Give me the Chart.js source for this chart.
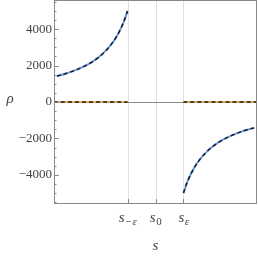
<!DOCTYPE html>
<html>
<head>
<meta charset="utf-8">
<script src="https://cdn.jsdelivr.net/npm/chart.js"></script>
<style>
  html, body { margin: 0; padding: 0; background: #fff; }
  #wrap { width: 258px; height: 258px; }
</style>
</head>
<body>
<div id="wrap"><canvas id="myChart" width="258" height="258"></canvas></div>
<script>
// values (s in units of epsilon around s0)
const sLeft = [-3.53, -3.25, -3, -2.75, -2.5, -2.25, -2, -1.75, -1.5, -1.375, -1.25, -1.125, -1];
const rhoLeft = [1420, 1540, 1670, 1820, 2000, 2220, 2500, 2860, 3330, 3640, 4000, 4440, 5000];
const sRight = [1, 1.125, 1.25, 1.375, 1.5, 1.75, 2, 2.25, 2.5, 2.75, 3, 3.25, 3.53];
const rhoRight = [-5000, -4440, -4000, -3640, -3330, -2860, -2500, -2220, -2000, -1820, -1670, -1540, -1420];
const sZeroLeft = [-3.63, -1];
const sZeroRight = [1, 3.63];

const yTicks = [-4000, -2000, 0, 2000, 4000];
const yMinorStep = 500;
const xTicks = [-1, 0, 1];
const xTickLabels = [["s", "−ε"], ["s", "0"], ["s", "ε"]];

const pts = (xs, ys) => xs.map((x, i) => ({ x: x, y: ys[i] }));
const zeros = (xs) => xs.map((x) => ({ x: x, y: 0 }));

const blue = "#6a9bd8";
const orange = "#f2a31c";
const serif = "'Liberation Serif', 'Times New Roman', serif";
const dashed = { borderColor: "#1a1a2a", borderWidth: 1.5, borderDash: [4, 3], pointRadius: 0, tension: 0.3 };

const frame = {
  id: "frame",
  beforeDatasetsDraw(chart) {
    const { ctx, chartArea: a, scales: { x, y } } = chart;
    ctx.save();
    ctx.strokeStyle = "#e0e0e0";
    ctx.lineWidth = 1;
    xTicks.forEach((v) => {
      const px = Math.round(x.getPixelForValue(v)) + 0.5;
      ctx.beginPath(); ctx.moveTo(px, a.top); ctx.lineTo(px, a.bottom); ctx.stroke();
    });
    ctx.strokeStyle = "#8a8a8a";
    const py0 = Math.round(y.getPixelForValue(0)) + 0.5;
    ctx.beginPath(); ctx.moveTo(a.left, py0); ctx.lineTo(a.right, py0); ctx.stroke();
    ctx.restore();
  },
  afterDraw(chart) {
    const { ctx, chartArea: a, scales: { x, y } } = chart;
    ctx.save();
    ctx.strokeStyle = "#8a8a8a";
    ctx.lineWidth = 1;
    ctx.strokeRect(a.left + 0.5, a.top + 0.5, a.right - a.left - 1, a.bottom - a.top - 1);

    // y ticks, inward
    for (let v = -5500; v <= 5500; v += yMinorStep) {
      const py = Math.round(y.getPixelForValue(v)) + 0.5;
      const len = yTicks.includes(v) ? 5 : 2.5;
      ctx.beginPath(); ctx.moveTo(a.left, py); ctx.lineTo(a.left + len, py); ctx.stroke();
    }
    // x ticks, inward
    xTicks.forEach((v) => {
      const px = Math.round(x.getPixelForValue(v)) + 0.5;
      ctx.beginPath(); ctx.moveTo(px, a.bottom); ctx.lineTo(px, a.bottom - 5); ctx.stroke();
    });

    // y tick labels
    ctx.fillStyle = "#444";
    ctx.font = "13px " + serif;
    ctx.textAlign = "right";
    ctx.textBaseline = "middle";
    yTicks.forEach((v) => {
      const txt = v < 0 ? "−" + Math.abs(v) : String(v);
      ctx.fillText(txt, a.left - 2, y.getPixelForValue(v));
    });

    // x tick labels with subscripts
    ctx.textAlign = "left";
    ctx.textBaseline = "alphabetic";
    xTicks.forEach((v, i) => {
      const [main, sub] = xTickLabels[i];
      const mainFont = "italic 15px " + serif;
      const subFont = (sub === "0" ? "" : "italic ") + "11px " + serif;
      ctx.font = mainFont; const w1 = ctx.measureText(main).width;
      ctx.font = subFont; const w2 = ctx.measureText(sub).width;
      const x0 = x.getPixelForValue(v) - (w1 + w2) / 2;
      ctx.font = mainFont; ctx.fillText(main, x0, 222);
      ctx.font = subFont; ctx.fillText(sub, x0 + w1 + 0.5, 225);
    });

    // axis titles
    ctx.textAlign = "center";
    ctx.font = "italic 15px " + serif;
    ctx.fillText("s", (a.left + a.right) / 2, 250);
    ctx.fillText("ρ", 10, 103);
    ctx.restore();
  }
};

const draw = () => new Chart(document.getElementById("myChart"), {
  type: "line",
  data: {
    datasets: [
      { ...dashed, data: pts(sLeft, rhoLeft) },
      { ...dashed, data: pts(sRight, rhoRight) },
      { ...dashed, data: zeros(sZeroLeft) },
      { ...dashed, data: zeros(sZeroRight) },
      { data: pts(sLeft, rhoLeft), borderColor: blue, borderWidth: 2, pointRadius: 0, tension: 0.3 },
      { data: pts(sRight, rhoRight), borderColor: blue, borderWidth: 2, pointRadius: 0, tension: 0.3 },
      { data: zeros(sZeroLeft), borderColor: orange, borderWidth: 1.5, pointRadius: 0 },
      { data: zeros(sZeroRight), borderColor: orange, borderWidth: 1.5, pointRadius: 0 },
    ],
  },
  options: {
    responsive: false,
    animation: false,
    layout: { padding: { left: 54, right: 1, top: 0, bottom: 54 } },
    plugins: { legend: { display: false }, tooltip: { enabled: false } },
    scales: {
      x: { type: "linear", min: -3.63, max: 3.63, display: false },
      y: { type: "linear", min: -5600, max: 5600, display: false },
    },
  },
  plugins: [frame],
});

Promise.all([
  document.fonts.load("13px 'Liberation Serif'"),
  document.fonts.load("italic 15px 'Liberation Serif'"),
]).then(draw, draw);
</script>
</body>
</html>
